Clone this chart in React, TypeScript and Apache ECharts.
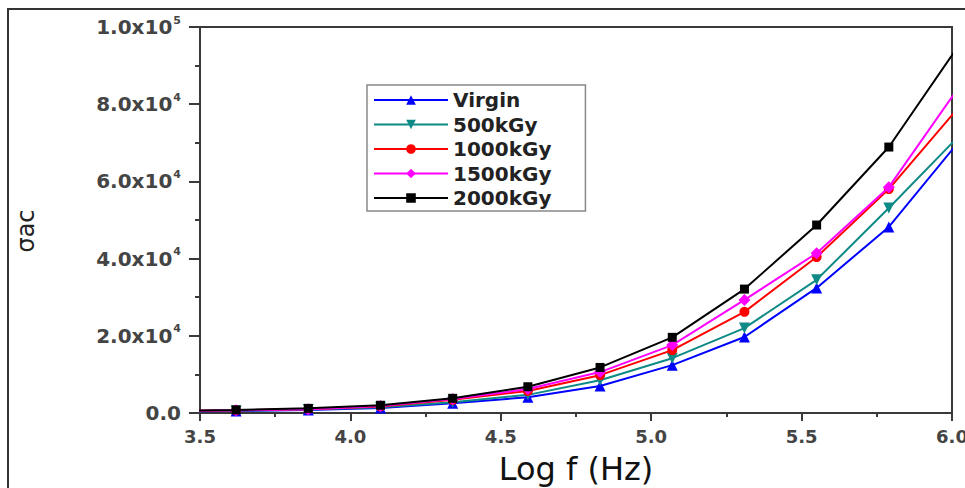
import React, { useEffect, useRef } from "react";
import * as echarts from "echarts";

const logF = [3.38, 3.62, 3.86, 4.1, 4.34, 4.59, 4.83, 5.07, 5.31, 5.55, 5.79, 6.03];
const virgin = [400, 500, 800, 1300, 2500, 4100, 7000, 12400, 19700, 32400, 48200, 71000];
const kGy500 = [450, 600, 900, 1500, 2800, 4700, 8500, 14200, 22000, 34500, 53100, 72300];
const kGy1000 = [500, 700, 1000, 1700, 3400, 5700, 9800, 16300, 26200, 40400, 58000, 79900];
const kGy1500 = [500, 700, 1000, 1800, 3600, 6200, 10600, 17600, 29300, 41400, 58500, 85200];
const kGy2000 = [550, 800, 1200, 2000, 3800, 6800, 11800, 19600, 32100, 48700, 68900, 96100];

const seriesNames = ["Virgin", "500kGy", "1000kGy", "1500kGy", "2000kGy"];
const seriesColors = ["#0000ff", "#0e8a86", "#ff0000", "#ff00ff", "#000000"];
const seriesSymbols = ["triangle", "path://M0,0 L10,0 L5,9 Z", "circle", "diamond", "rect"];
const seriesSizes = [11, 11, 10, 12, 9];
const seriesValues = [virgin, kGy500, kGy1000, kGy1500, kGy2000];

export default function App() {
  const ref = useRef<HTMLDivElement>(null);
  useEffect(() => {
    document.body.style.margin = "0";
    document.body.style.overflow = "hidden";
    const chart = echarts.init(ref.current!, null, { renderer: "svg", width: 965, height: 488 });
    const font = "DejaVu Sans";
    chart.setOption({
      animation: false,
      backgroundColor: "#ffffff",
      grid: {
        left: 200,
        top: 27,
        right: 13,
        bottom: 75,
        containLabel: false,
        outerBoundsMode: "none",
        show: true,
        borderColor: "#3a3a3a",
        borderWidth: 2,
        backgroundColor: "transparent",
      },
      legend: {
        orient: "vertical",
        left: 367,
        top: 85,
        padding: [5, 34, 3, 6],
        borderColor: "#888",
        borderWidth: 1.5,
        itemWidth: 74,
        itemHeight: 12,
        itemGap: 4.5,
        textStyle: { fontFamily: font, fontSize: 20, lineHeight: 20, fontWeight: "bold", color: "#222" },
        data: seriesNames,
      },
      xAxis: {
        type: "value",
        min: 3.5,
        max: 6.0,
        interval: 0.5,
        name: "Log f (Hz)",
        nameLocation: "middle",
        nameGap: 40,
        nameTextStyle: { fontFamily: font, fontSize: 32, color: "#111" },
        axisLine: { show: true, lineStyle: { color: "#3a3a3a", width: 2 } },
        axisTick: { show: true, inside: false, length: 8, lineStyle: { color: "#3a3a3a", width: 2 } },
        minorTick: { show: true, splitNumber: 2, length: 4, lineStyle: { color: "#3a3a3a", width: 2 } },
        splitLine: { show: false },
        axisLabel: {
          fontFamily: font,
          fontSize: 18,
          fontWeight: "bold",
          color: "#444",
          margin: 14,
          formatter: (v: number) => v.toFixed(1),
        },
      },
      yAxis: {
        type: "value",
        min: 0,
        max: 100000,
        interval: 20000,
        name: "σac",
        nameLocation: "middle",
        nameRotate: 90,
        nameGap: 162,
        nameTextStyle: { fontFamily: font, fontSize: 24, color: "#222", padding: [0, 22, 0, 0] },
        axisLine: { show: true, lineStyle: { color: "#3a3a3a", width: 2 } },
        axisTick: { show: true, inside: false, length: 11, lineStyle: { color: "#3a3a3a", width: 2 } },
        minorTick: { show: true, splitNumber: 2, length: 5, lineStyle: { color: "#3a3a3a", width: 2 } },
        splitLine: { show: false },
        axisLabel: {
          margin: 19,
          formatter: (v: number) => {
            if (v === 0) return "{b|0.0}";
            const e = Math.floor(Math.log10(v) + 1e-9);
            const m = (v / Math.pow(10, e)).toFixed(1);
            return `{b|${m}x10}{e|${e}}`;
          },
          rich: {
            b: { fontFamily: font, fontSize: 20, fontWeight: "bold", color: "#444" },
            e: { fontFamily: font, fontSize: 11, fontWeight: "bold", color: "#444", padding: [0, 0, 14, 1] },
          },
        },
      },
      graphic: [
        {
          type: "polyline",
          shape: { points: [[8, 488], [8, 9], [965, 9]] },
          style: { stroke: "#333", lineWidth: 2, fill: "none" },
          silent: true,
        },
      ],
      series: seriesNames.map((name, i) => ({
        name,
        type: "line",
        clip: true,
        data: logF.map((x, j) => [x, seriesValues[i][j]]),
        symbol: seriesSymbols[i],
        symbolSize: seriesSizes[i],
        showAllSymbol: true,
        itemStyle: { color: seriesColors[i] },
        lineStyle: { color: seriesColors[i], width: 2 },
        z: 2 + i,
      })),
    });
    return () => chart.dispose();
  }, []);
  return <div ref={ref} style={{ width: 965, height: 488 }} />;
}
